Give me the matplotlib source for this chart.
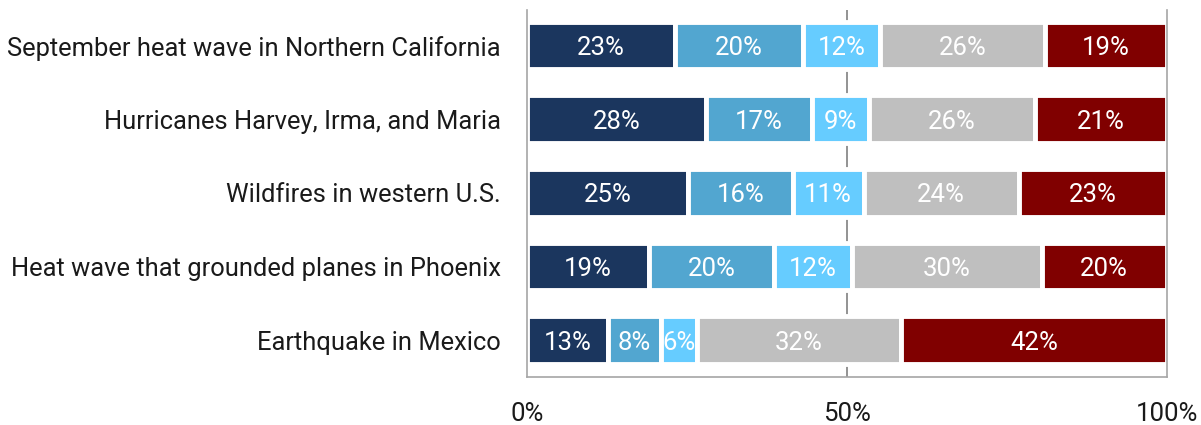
import numpy as np
import matplotlib
matplotlib.use('Agg')
import matplotlib.pyplot as plt

plt.rcParams['font.family'] = ['Roboto', 'DejaVu Sans']

categories = ['September heat wave in Northern California',
              'Hurricanes Harvey, Irma, and Maria',
              'Wildfires in western U.S.',
              'Heat wave that grounded planes in Phoenix',
              'Earthquake in Mexico']
seg1 = [23.1, 27.9, 25.2, 19.0, 12.7]
seg2 = [20.1, 16.6, 16.3, 19.6, 8.2]
seg3 = [11.9, 8.9, 11.1, 12.2, 5.7]
seg4 = [25.9, 25.9, 24.2, 29.6, 31.8]
seg5 = [19.0, 20.7, 23.2, 19.6, 41.6]
colors = ['#1b365e', '#52a6d0', '#66ccff', '#bfbfbf', '#800000']
xticks = [0, 50, 100]
xticklabels = ['0%', '50%', '100%']

fig = plt.figure(figsize=(12.01, 4.25), dpi=100)
ax = fig.add_axes([0.4388, 0.1129, 0.9717 - 0.4388, 0.976 - 0.1129])

y = np.arange(len(categories))
left = np.zeros(len(categories))
for vals, c in zip([seg1, seg2, seg3, seg4, seg5], colors):
    vals = np.array(vals)
    ax.barh(y, vals, left=left, height=0.65, color=c,
            edgecolor='white', linewidth=3.5, zorder=2)
    for yi, l, v in zip(y, left, vals):
        ax.text(l + v / 2, yi, '%.0f%%' % v, ha='center', va='center_baseline',
                color='white', fontsize=18.5, zorder=3)
    left += vals

ax.set_xlim(0, 100)
ax.set_ylim(4.5, -0.48)
ax.set_yticks(y)
ax.set_yticklabels(categories, fontsize=18.4, color='#1a1a1a')
ax.set_xticks(xticks)
ax.set_xticklabels(xticklabels, fontsize=18.5, color='#1a1a1a')
ax.tick_params(axis='both', length=0)
ax.tick_params(axis='y', pad=19)
ax.tick_params(axis='x', pad=18)
ax.axvline(50, color='#808080', linewidth=1.2, zorder=1)

ax.spines['top'].set_visible(False)
for s in ['left', 'right', 'bottom']:
    ax.spines[s].set_color('#a6a6a6')
    ax.spines[s].set_linewidth(1.2)

fig.savefig('out.png', dpi=100)
